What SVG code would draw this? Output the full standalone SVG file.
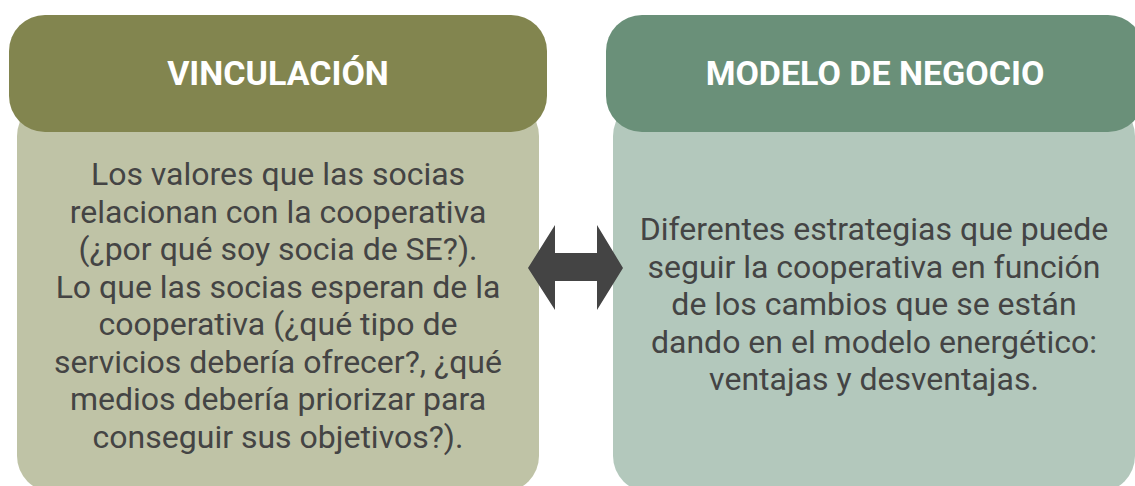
<svg xmlns="http://www.w3.org/2000/svg" width="1135" height="486" viewBox="0 0 1135 486">
<style>
.hd{font-family:Roboto,"Liberation Sans",sans-serif;font-weight:bold;font-size:34px;fill:#ffffff;text-anchor:middle}
.bd{font-family:Roboto,"Liberation Sans",sans-serif;font-size:32px;fill:#444444;text-anchor:middle}
</style>
<rect width="1135" height="486" fill="#ffffff"/>
<g id="vinculacion">
<rect x="17" y="100" width="522" height="392" rx="36" fill="#BFC3A6"/>
<rect x="9" y="15" width="538" height="117" rx="36" fill="#82854F"/>
<text class="hd" x="278" y="85">VINCULACIÓN</text>
<text class="bd" x="278" y="185">Los valores que las socias</text>
<text class="bd" x="278" y="222.5">relacionan con la cooperativa</text>
<text class="bd" x="278" y="260">(¿por qué soy socia de SE?).</text>
<text class="bd" x="278" y="297.5">Lo que las socias esperan de la</text>
<text class="bd" x="278" y="335">cooperativa (¿qué tipo de</text>
<text class="bd" x="278" y="372.5">servicios debería ofrecer?, ¿qué</text>
<text class="bd" x="278" y="410">medios debería priorizar para</text>
<text class="bd" x="278" y="447.5">conseguir sus objetivos?).</text>
</g>
<g id="modelo">
<rect x="613" y="100" width="522" height="392" rx="36" fill="#B3C8BC"/>
<rect x="606" y="15" width="538" height="117" rx="36" fill="#6A9079"/>
<text class="hd" x="875" y="85">MODELO DE NEGOCIO</text>
<text class="bd" x="874" y="240">Diferentes estrategias que puede</text>
<text class="bd" x="874" y="277.5">seguir la cooperativa en función</text>
<text class="bd" x="874" y="315">de los cambios que se están</text>
<text class="bd" x="874" y="352.5">dando en el modelo energético:</text>
<text class="bd" x="874" y="390">ventajas y desventajas.</text>
</g>
<g id="connectors">
<polygon points="528,268 555,225 555,253 597,253 597,225 623,268 597,310 597,281 555,281 555,310" fill="#444444"/>
</g>
</svg>
